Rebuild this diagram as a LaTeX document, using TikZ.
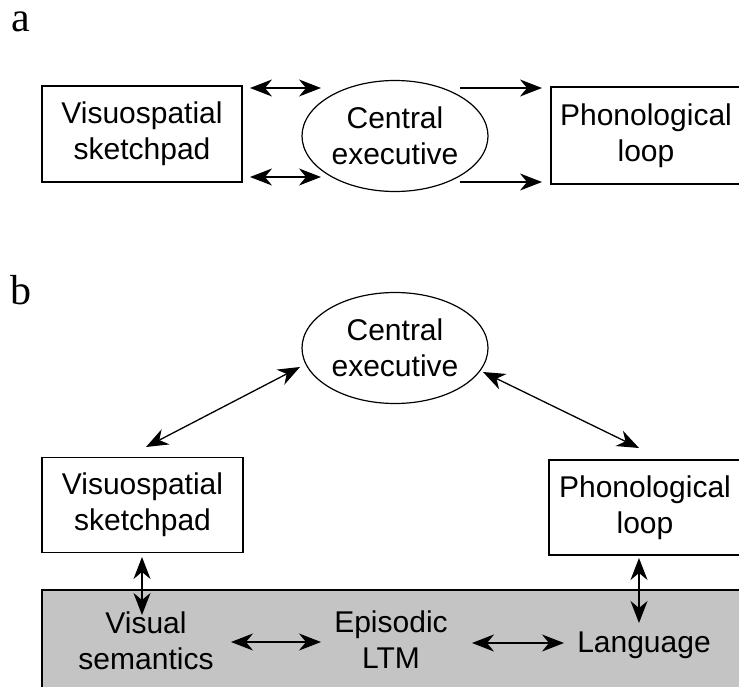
\documentclass[tikz,border=0pt]{standalone}
\usepackage{fontspec}
\setmainfont{Liberation Sans}
\newfontfamily\labfont{Liberation Serif}
\usetikzlibrary{shapes.geometric,arrows.meta}
\begin{document}
\begin{tikzpicture}[x=1pt,y=-1pt,
  txt/.style={font=\fontsize{30}{36}\selectfont,align=center,inner sep=0pt},
  boxnode/.style={draw,line width=1.2pt,rectangle,minimum width=#1,minimum height=96pt,inner sep=0pt,font=\fontsize{30}{36}\selectfont,align=center},
  ellnode/.style={draw,line width=1.2pt,ellipse,minimum width=186pt,minimum height=111pt,inner sep=0pt,font=\fontsize{30}{36}\selectfont,align=center},
  tip/.tip={Stealth[length=22pt,width=17pt,inset=7pt]},
  conn/.style={line width=1.3pt,tip-tip},
  oneway/.style={line width=1.3pt,-tip},
  panel/.style={font=\labfont\fontsize{42}{48}\selectfont,inner sep=0pt}]
\clip (0,0) rectangle (739,687);
\fill[white] (0,0) rectangle (739,687);
% panel a
\node[panel] (la) at (21,22) {a};
\node[boxnode=200pt] (vsa) at (142,134) {Visuospatial\\sketchpad};
\node[ellnode] (cea) at (395,136) {Central\\executive};
\node[boxnode=190pt,minimum height=97pt] (pla) at (646,135.5) {Phonological\\loop};
\coordinate (a1) at (250,88); \coordinate (a2) at (321,88);
\coordinate (a3) at (250,177); \coordinate (a4) at (321,177);
\coordinate (a5) at (460,88); \coordinate (a6) at (542,88);
\coordinate (a7) at (460,182); \coordinate (a8) at (542,182);
\draw[conn] (a1) -- (a2);
\draw[conn] (a3) -- (a4);
\draw[oneway] (a5) -- (a6);
\draw[oneway] (a7) -- (a8);
% panel b
\node[panel] (lb) at (21,290) {b};
\node[ellnode] (ceb) at (395,348) {Central\\executive};
\node[boxnode=201pt,minimum height=95pt] (vsb) at (142.5,505) {Visuospatial\\sketchpad};
\node[boxnode=192pt,minimum height=95pt] (plb) at (645,507.5) {Phonological\\loop};
\fill[black!23] (42,590) rectangle (750,700);
\draw[line width=1.6pt] (42,700) -- (42,590) -- (750,590);
\node[txt] (vis) at (146,641) {Visual\\semantics};
\node[txt] (epi) at (391,640) {Episodic\\LTM};
\node[txt] (lang) at (644,645) {Language};
\coordinate (b1) at (146,447); \coordinate (b2) at (300,367);
\coordinate (b3) at (483,372); \coordinate (b4) at (639,448);
\draw[conn] (b1) -- (b2);
\draw[conn] (b3) -- (b4);
\coordinate (c1) at (142,557); \coordinate (c2) at (142,615);
\coordinate (c3) at (639,558); \coordinate (c4) at (639,623);
\draw[conn] (c1) -- (c2);
\draw[conn] (c3) -- (c4);
\coordinate (d1) at (231,642); \coordinate (d2) at (321,642);
\coordinate (d3) at (472,643); \coordinate (d4) at (564,643);
\draw[conn] (d1) -- (d2);
\draw[conn] (d3) -- (d4);
\end{tikzpicture}
\end{document}
